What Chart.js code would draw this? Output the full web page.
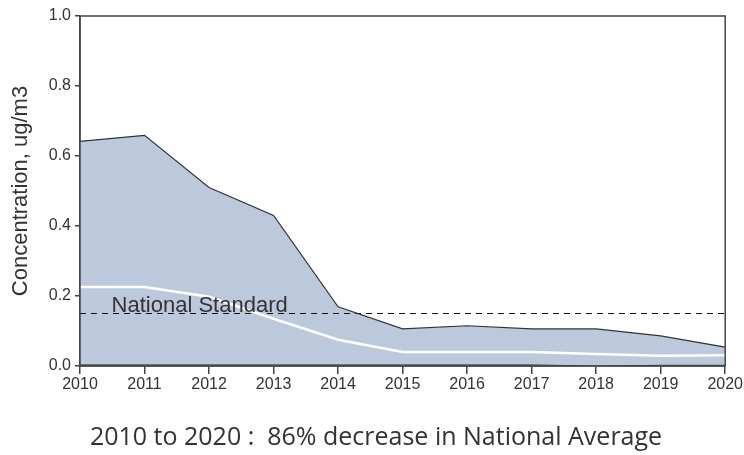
<!DOCTYPE html>
<html>
<head>
<meta charset="utf-8">
<script src="https://cdn.jsdelivr.net/npm/chart.js@4/dist/chart.umd.min.js"></script>
<style>
  body { margin: 0; background: #fff; }
  #wrap { width: 744px; height: 455px; }
</style>
</head>
<body>
<div id="wrap"><canvas id="leadChart"></canvas></div>
<script>
// values (ug/m3)
var years = [2010, 2011, 2012, 2013, 2014, 2015, 2016, 2017, 2018, 2019, 2020];
var upperValues = [0.642, 0.659, 0.51, 0.43, 0.169, 0.106, 0.115, 0.106, 0.106, 0.086, 0.054];
var lowerValues = [0.003, 0.003, 0.003, 0.003, 0.003, 0.003, 0.003, 0.003, 0.0, 0.002, 0.002];
var averageValues = [0.226, 0.226, 0.198, 0.135, 0.075, 0.04, 0.04, 0.04, 0.034, 0.029, 0.031];
var standardYears = [2010, 2020];
var standardValue = 0.15;
var yTicks = [0, 0.2, 0.4, 0.6, 0.8, 1.0];

function toPoints(xs, ys) {
  return xs.map(function(x, i) { return { x: x, y: ys[i] }; });
}

var bandColor = 'rgb(188,200,220)';
var inkColor = '#333333';

// frame round the plot area + the "National Standard" label
var framePlugin = {
  id: 'frame',
  afterDatasetsDraw: function(chart) {
    var ctx = chart.ctx;
    var area = chart.chartArea;
    var xScale = chart.scales.x;
    var yScale = chart.scales.y;
    ctx.save();
    ctx.fillStyle = inkColor;
    ctx.font = '22px "Liberation Sans"';
    ctx.textBaseline = 'alphabetic';
    ctx.fillText('National Standard', xScale.getPixelForValue(2010.49), yScale.getPixelForValue(standardValue) - 2);
    ctx.strokeStyle = '#444';
    ctx.lineWidth = 1.5;
    ctx.strokeRect(area.left, area.top, area.right - area.left, area.bottom - area.top);
    ctx.restore();
  }
};

var ctx = document.getElementById('leadChart');
var leadChart = new Chart(ctx, {
  type: 'line',
  data: {
    datasets: [
      {
        label: 'upper',
        data: toPoints(years, upperValues),
        borderColor: inkColor,
        borderWidth: 1.2,
        backgroundColor: bandColor,
        fill: '+1',
        pointRadius: 0,
        tension: 0
      },
      {
        label: 'lower',
        data: toPoints(years, lowerValues),
        borderColor: inkColor,
        borderWidth: 1,
        fill: false,
        pointRadius: 0,
        tension: 0
      },
      {
        label: 'National Average',
        data: toPoints(years, averageValues),
        borderColor: '#ffffff',
        borderWidth: 2.5,
        fill: false,
        pointRadius: 0,
        tension: 0
      },
      {
        label: 'National Standard',
        data: toPoints(standardYears, [standardValue, standardValue]),
        borderColor: '#111111',
        borderWidth: 1.2,
        borderDash: [6, 5],
        fill: false,
        pointRadius: 0,
        tension: 0
      }
    ]
  },
  options: {
    responsive: true,
    maintainAspectRatio: false,
    animation: false,
    layout: { padding: { left: 24, right: 16, top: 16, bottom: 0 } },
    plugins: {
      legend: { display: false },
      tooltip: { enabled: false },
      filler: { drawTime: 'beforeDatasetsDraw' },
      title: {
        display: true,
        position: 'bottom',
        text: '2010 to 2020 :  86% decrease in National Average',
        color: inkColor,
        font: { family: 'Open Sans', size: 25, weight: 'normal' },
        padding: { top: 27, bottom: 2 }
      }
    },
    scales: {
      x: {
        type: 'linear',
        min: years[0],
        max: years[years.length - 1],
        afterFit: function(scale) { scale.height = 30; },
        ticks: {
          stepSize: 1,
          color: inkColor,
          font: { family: 'Liberation Sans', size: 16 },
          padding: 1,
          maxRotation: 0,
          callback: function(v) { return String(v); }
        },
        grid: { drawOnChartArea: false, drawTicks: true, tickLength: 8, color: '#444', lineWidth: 1.5 },
        border: { display: true, color: '#444', width: 1.5 }
      },
      y: {
        min: 0,
        max: 1,
        afterFit: function(scale) { scale.width = 56; },
        afterBuildTicks: function(scale) {
          scale.ticks = yTicks.map(function(v) { return { value: v }; });
        },
        ticks: {
          color: inkColor,
          font: { family: 'Liberation Sans', size: 16 },
          padding: 4,
          callback: function(v) { return Number(v).toFixed(1); }
        },
        title: {
          display: true,
          text: 'Concentration, ug/m3',
          color: inkColor,
          font: { family: 'Liberation Sans', size: 22 },
          padding: { top: -16, bottom: 6 }
        },
        grid: { drawOnChartArea: false, drawTicks: true, tickLength: 5, color: '#444', lineWidth: 1.5 },
        border: { display: true, color: '#444', width: 1.5 }
      }
    }
  },
  plugins: [framePlugin]
});
</script>
</body>
</html>
